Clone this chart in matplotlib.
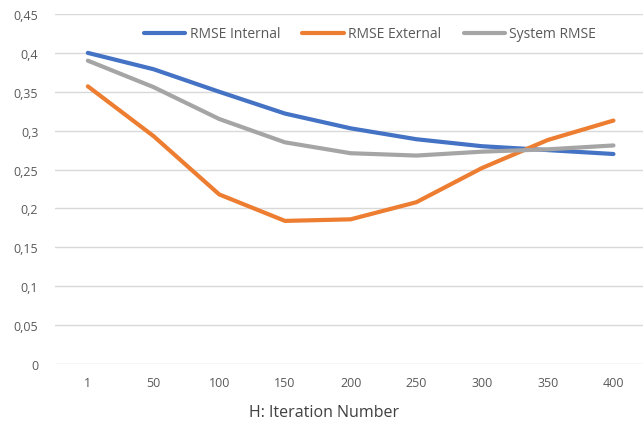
import matplotlib
matplotlib.use("Agg")
import matplotlib.pyplot as plt
from matplotlib.ticker import FuncFormatter

categories = ["1", "50", "100", "150", "200", "250", "300", "350", "400"]
rmse_internal = [0.400, 0.379, 0.350, 0.322, 0.303, 0.289, 0.280, 0.275, 0.270]
rmse_external = [0.357, 0.293, 0.218, 0.184, 0.186, 0.208, 0.252, 0.288, 0.313]
system_rmse = [0.390, 0.356, 0.315, 0.285, 0.271, 0.268, 0.273, 0.276, 0.281]

plt.rcParams['font.family'] = ['Open Sans', 'DejaVu Sans']

fig = plt.figure(figsize=(6.43, 4.31), dpi=100)
ax = fig.add_axes([55/643, 1-365/431, 1-55/643, (365-15)/431])

x = list(range(len(categories)))
lw = 3.0
ax.plot(x, rmse_internal, color="#4472C4", lw=lw, label="RMSE Internal", solid_capstyle="round")
ax.plot(x, rmse_external, color="#ED7D31", lw=lw, label="RMSE External", solid_capstyle="round")
ax.plot(x, system_rmse, color="#A5A5A5", lw=lw, label="System RMSE", solid_capstyle="round")

ax.set_ylim(0, 0.45)
ax.set_xlim(-0.5, 8.45)
ax.set_yticks([i * 0.05 for i in range(10)])
ax.yaxis.set_major_formatter(FuncFormatter(lambda v, p: ("%g" % round(v, 2)).replace(".", ",")))
ax.set_xticks(x)
ax.set_xticklabels(categories)

for s in ax.spines.values():
    s.set_visible(False)
ax.grid(axis="y", color="#D9D9D9", lw=1)
ax.set_axisbelow(True)
ax.tick_params(axis="both", length=0, labelsize=9, labelcolor="#595959")
ax.tick_params(axis="y", pad=12)
ax.tick_params(axis="x", pad=9)

fig.text(324/643, 1-413/431, "H: Iteration Number", fontsize=11.5, color="#404040",
         ha="center", va="center")

leg = fig.legend(*ax.get_legend_handles_labels(), loc="center",
                 bbox_to_anchor=(370/643, 1-35/431), ncol=3, frameon=False,
                 fontsize=10, handlelength=3.0, columnspacing=1.6, handletextpad=0.3)
for t in leg.get_texts():
    t.set_color("#595959")

fig.savefig("out.png", dpi=100)
